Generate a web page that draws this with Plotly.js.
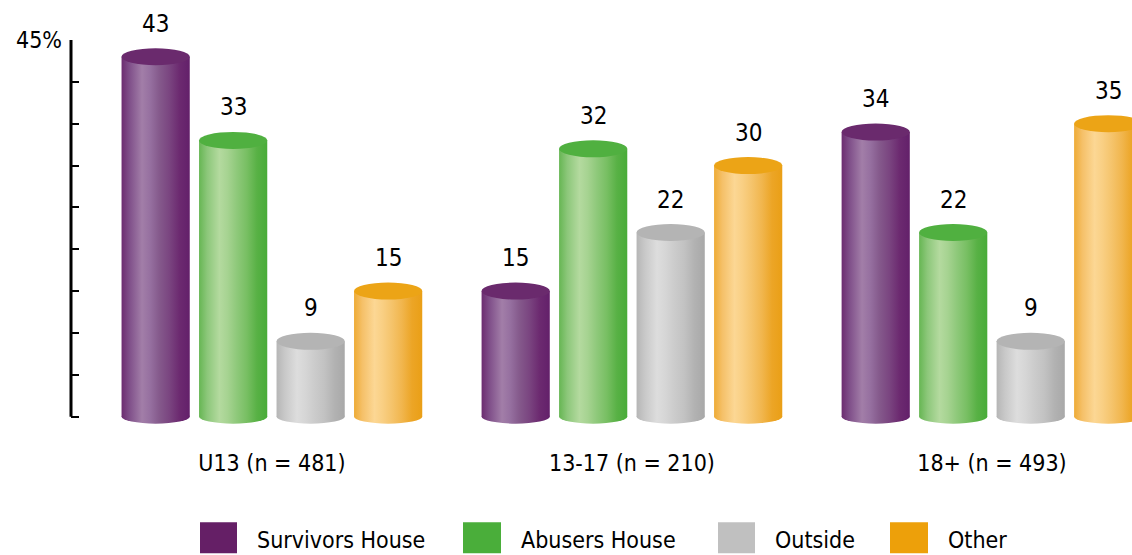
<!DOCTYPE html>
<html>
<head>
<meta charset="utf-8">
<script src="https://cdn.plot.ly/plotly-3.0.1.min.js"></script>
<style>
  html, body { margin: 0; padding: 0; background: #ffffff; }
  #chart { width: 1132px; height: 555px; }
</style>
</head>
<body>
<div id="chart"></div>
<script>
// ---- Data ----
const categories = ['U13 (n = 481)', '13-17 (n = 210)', '18+ (n = 493)'];
const seriesNames = ['Survivors House', 'Abusers House', 'Outside', 'Other'];
const survivorsHouse = [43, 15, 34];
const abusersHouse = [33, 32, 22];
const outside = [9, 22, 9];
const other = [15, 30, 35];
const yTickVals = [0, 5, 10, 15, 20, 25, 30, 35, 40, 45];
const yTickText = ['', '', '', '', '', '', '', '', '', '45%'];

// ---- Styles ----
const seriesValues = [survivorsHouse, abusersHouse, outside, other];
const solidColors = ['#651f66', '#4aae3a', '#c0c0c0', '#eda00a'];
const topColors = ['#6a2a6d', '#50b040', '#b4b4b4', '#eca416'];
const gradStops = [
  [[0, '#6c2c70'], [0.12, '#80508a'], [0.3, '#a27ea8'], [0.42, '#9670a0'], [0.55, '#855a8c'], [0.7, '#7a4580'], [0.85, '#6c2a70'], [1, '#63206a']],
  [[0, '#66b653'], [0.12, '#8cc77a'], [0.3, '#b4da9f'], [0.42, '#a6d391'], [0.55, '#8fc97b'], [0.7, '#78bf63'], [0.85, '#58b145'], [1, '#48ac38']],
  [[0, '#b6b6b6'], [0.12, '#c8c8c8'], [0.3, '#dddddd'], [0.42, '#d6d6d6'], [0.55, '#cccccc'], [0.7, '#c2c2c2'], [0.85, '#b2b2b2'], [1, '#a8a8a8']],
  [[0, '#eeab35'], [0.12, '#f5c068'], [0.3, '#fcd794'], [0.42, '#f9cf83'], [0.55, '#f5c46c'], [0.7, '#f1b64e'], [0.85, '#eca526'], [1, '#ea9f16']]
];
const FONT = 'Liberation Sans Narrow, DejaVu Sans Condensed, Arial Narrow, sans-serif';

const bargap = 0.139, bargroupgap = 0.12;
const nSeries = seriesNames.length;
const groupW = 1 - bargap;
const slotW = groupW / nSeries;
const barW = slotW * (1 - bargroupgap);

const traces = seriesNames.map((name, i) => ({
  type: 'bar',
  name: name,
  x: categories,
  y: seriesValues[i],
  marker: { color: solidColors[i], line: { width: 0 } },
  showlegend: false,
  hoverinfo: 'skip'
}));

const shapes = [];
const shapeMeta = [];
const annotations = [];

// y-axis line
shapes.push({ type: 'line', xref: 'paper', yref: 'y', x0: 0, x1: 0, y0: 0, y1: 45,
  line: { color: '#000000', width: 3 }, layer: 'above' });
shapeMeta.push({});

seriesNames.forEach((name, i) => {
  categories.forEach((cat, c) => {
    const v = seriesValues[i][c];
    const center = c - groupW / 2 + slotW * (i + 0.5);
    // bottom ellipse
    shapes.push({ type: 'circle', xref: 'x', yref: 'y', x0: center - barW / 2, x1: center + barW / 2,
      ysizemode: 'pixel', yanchor: 0, y0: -7, y1: 7,
      fillcolor: solidColors[i], line: { width: 0 }, layer: 'below' });
    shapeMeta.push({ grad: i });
    // top ellipse
    shapes.push({ type: 'circle', xref: 'x', yref: 'y', x0: center - barW / 2, x1: center + barW / 2,
      ysizemode: 'pixel', yanchor: v, y0: -8.5, y1: 8.5,
      fillcolor: topColors[i], line: { width: 0 }, layer: 'above' });
    shapeMeta.push({});
    // value label
    annotations.push({ xref: 'x', yref: 'y', x: center, y: v, yshift: 33, text: String(v),
      showarrow: false, yanchor: 'middle', xanchor: 'center',
      font: { family: FONT, size: 24, color: '#000000' } });
  });
});

// custom legend
const plotLeft = 71, plotW = 1061, plotBottom = 425.5, plotH = 385.5;
const px2x = p => (p - plotLeft) / plotW;
const py2y = p => (plotBottom - p) / plotH;
const legendSquares = [[200, 237], [463, 501], [718, 755], [890, 928]];
seriesNames.forEach((name, i) => {
  const [a, b] = legendSquares[i];
  shapes.push({ type: 'rect', xref: 'paper', yref: 'paper', x0: px2x(a), x1: px2x(b), y0: py2y(554), y1: py2y(523),
    fillcolor: solidColors[i], line: { width: 0 } });
  shapeMeta.push({});
  annotations.push({ xref: 'paper', yref: 'paper', x: px2x(b + 18), y: py2y(541), text: name,
    showarrow: false, xanchor: 'left', yanchor: 'middle',
    font: { family: FONT, size: 23, color: '#000000' } });
});

const layout = {
  width: 1132, height: 555,
  margin: { l: 71, r: 0, t: 40, b: 129.5 },
  paper_bgcolor: '#ffffff', plot_bgcolor: '#ffffff',
  barmode: 'group', bargap: bargap, bargroupgap: bargroupgap,
  showlegend: false,
  font: { family: FONT, color: '#000000' },
  xaxis: {
    type: 'category', range: [-0.558, 2.389],
    showline: false, showgrid: false, zeroline: false, ticks: '',
    tickfont: { family: FONT, size: 23, color: '#000000' },
    ticklabelstandoff: 22, fixedrange: true
  },
  yaxis: {
    range: [-1, 45], showline: false, showgrid: false, zeroline: false,
    tickmode: 'array', tickvals: yTickVals, ticktext: yTickText,
    ticks: 'inside', ticklen: 8, tickwidth: 2, tickcolor: '#000000',
    tickfont: { family: FONT, size: 23, color: '#000000' },
    ticklabelstandoff: 8, fixedrange: true
  },
  shapes: shapes,
  annotations: annotations
};

function applyGradients(gd) {
  const ns = 'http://www.w3.org/2000/svg';
  const svg = gd.querySelector('.main-svg');
  let defs = svg.querySelector('defs');
  if (!defs) { defs = document.createElementNS(ns, 'defs'); svg.insertBefore(defs, svg.firstChild); }
  gradStops.forEach((stops, i) => {
    const lg = document.createElementNS(ns, 'linearGradient');
    lg.setAttribute('id', 'cyl' + i);
    lg.setAttribute('x1', '0'); lg.setAttribute('y1', '0');
    lg.setAttribute('x2', '1'); lg.setAttribute('y2', '0');
    stops.forEach(([o, c]) => {
      const s = document.createElementNS(ns, 'stop');
      s.setAttribute('offset', o);
      s.setAttribute('stop-color', c);
      lg.appendChild(s);
    });
    defs.appendChild(lg);
  });
  gd.querySelectorAll('.barlayer .trace').forEach((tr, i) => {
    tr.querySelectorAll('path').forEach(p => { p.style.fill = 'url(#cyl' + i + ')'; });
  });
  gd.querySelectorAll('.shapelayer path').forEach(p => {
    const k = +p.getAttribute('data-index');
    const m = shapeMeta[k];
    if (m && m.grad !== undefined) p.style.fill = 'url(#cyl' + m.grad + ')';
  });
}

Plotly.newPlot('chart', traces, layout, { staticPlot: true, displayModeBar: false })
  .then(gd => applyGradients(gd));
</script>
</body>
</html>
